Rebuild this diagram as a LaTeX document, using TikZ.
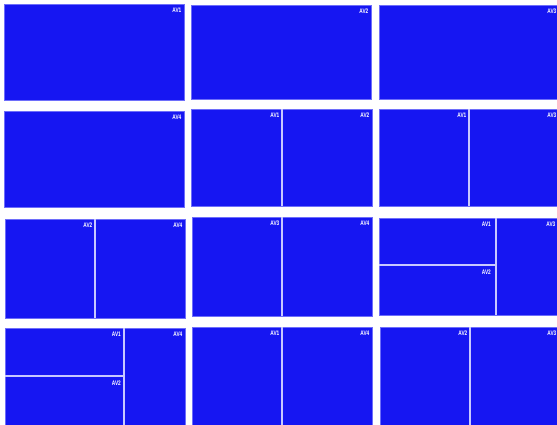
\documentclass[tikz,border=0pt]{standalone}
\usepackage{fontspec}
\setsansfont{Liberation Sans}
\definecolor{panelblue}{RGB}{22,22,242}
\definecolor{paneledge}{RGB}{110,110,250}
\definecolor{divider}{RGB}{200,200,255}
\begin{document}
\begin{tikzpicture}[x=1pt,y=-1pt,
  panel/.style={fill=panelblue,draw=paneledge,line width=0.7pt},
  divline/.style={draw=divider,line width=1.1pt},
  avlabel/.style={anchor=north east,inner sep=0pt,text=white,
    font=\sffamily\bfseries\fontsize{6.6}{6.6}\selectfont,xscale=0.72}]
\useasboundingbox (0,0) rectangle (557,425);
\clip (0,0) rectangle (557,425);
\fill[white] (0,0) rectangle (557,425);
% Row 1
\draw[panel] (4,4) rectangle (184,100);
\node[avlabel] (r1c1a) at (181.5,7.5) {AV1};
\draw[panel] (191,5) rectangle (371,99);
\node[avlabel] (r1c2a) at (368.5,8.5) {AV2};
\draw[panel] (379,5) rectangle (560,99);
\node[avlabel] (r1c3a) at (556.5,8.5) {AV3};
% Row 2
\draw[panel] (4,111) rectangle (184,207);
\node[avlabel] (r2c1a) at (181.5,114.5) {AV4};
\draw[panel] (191,109) rectangle (372,206);
\draw[divline] (282,109) -- (282,206);
\node[avlabel] (r2c2a) at (279.5,112.5) {AV1};
\node[avlabel] (r2c2b) at (369.5,112.5) {AV2};
\draw[panel] (379,109) rectangle (560,206);
\draw[divline] (469,109) -- (469,206);
\node[avlabel] (r2c3a) at (466.5,112.5) {AV1};
\node[avlabel] (r2c3b) at (556.5,112.5) {AV3};
% Row 3
\draw[panel] (5,219) rectangle (185,318);
\draw[divline] (95,219) -- (95,318);
\node[avlabel] (r3c1a) at (92.5,223) {AV2};
\node[avlabel] (r3c1b) at (182.5,223) {AV4};
\draw[panel] (192,217) rectangle (372,316);
\draw[divline] (282,217) -- (282,316);
\node[avlabel] (r3c2a) at (279.5,221) {AV3};
\node[avlabel] (r3c2b) at (369.5,221) {AV4};
\draw[panel] (379,218) rectangle (560,315);
\draw[divline] (496,218) -- (496,315);
\draw[divline] (379,265) -- (496,265);
\node[avlabel] (r3c3a) at (491,222) {AV1};
\node[avlabel] (r3c3b) at (491,269.5) {AV2};
\node[avlabel] (r3c3c) at (555.5,222) {AV3};
% Row 4
\draw[panel] (5,328) rectangle (185,425);
\draw[divline] (124,328) -- (124,425);
\draw[divline] (5,376) -- (124,376);
\node[avlabel] (r4c1a) at (121,332) {AV1};
\node[avlabel] (r4c1b) at (121,380.5) {AV2};
\node[avlabel] (r4c1c) at (182.5,332) {AV4};
\draw[panel] (192,327) rectangle (372,425);
\draw[divline] (282,327) -- (282,425);
\node[avlabel] (r4c2a) at (279.5,331) {AV1};
\node[avlabel] (r4c2b) at (369.5,331) {AV4};
\draw[panel] (380,327) rectangle (560,425);
\draw[divline] (470,327) -- (470,425);
\node[avlabel] (r4c3a) at (467.5,331) {AV2};
\node[avlabel] (r4c3b) at (556.5,331) {AV3};
\end{tikzpicture}
\end{document}
